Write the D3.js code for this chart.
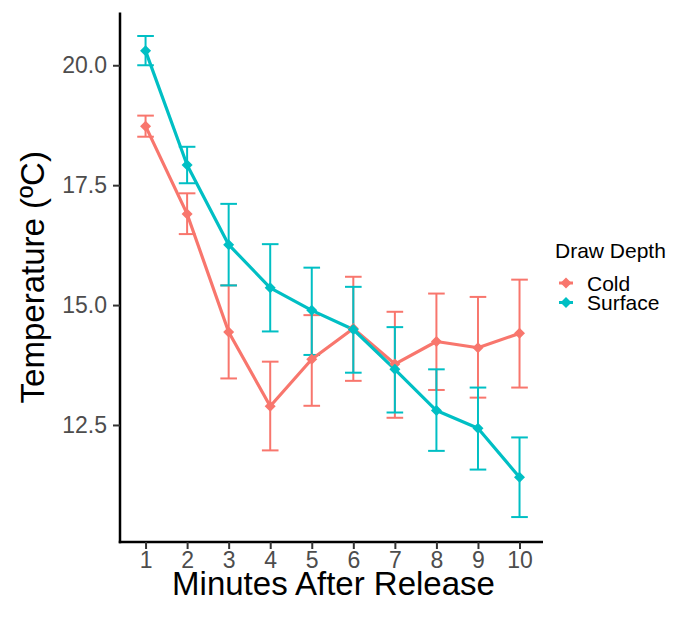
<!DOCTYPE html>
<html>
<head>
<meta charset="utf-8">
<script src="https://cdn.jsdelivr.net/npm/d3@7"></script>
<style>
  html, body { margin: 0; padding: 0; background: #fff; }
  svg { display: block; font-family: "Liberation Sans", Arial, sans-serif; }
</style>
</head>
<body>
<svg id="chart" width="673" height="617"></svg>
<script>
// ---- data ----
const minutes = [1, 2, 3, 4, 5, 6, 7, 8, 9, 10];
const seriesNames = ["Cold", "Surface"];
const coldMean  = [18.73, 16.90, 14.44, 12.89, 13.87, 14.51, 13.77, 14.24, 14.11, 14.41];
const coldLow   = [18.51, 16.48, 13.47, 11.97, 12.90, 13.42, 12.65, 13.23, 13.07, 13.28];
const coldHigh  = [18.95, 17.33, 15.41, 13.82, 14.79, 15.59, 14.86, 15.24, 15.17, 15.53];
const surfMean  = [20.30, 17.92, 16.26, 15.36, 14.89, 14.49, 13.66, 12.80, 12.43, 11.41];
const surfLow   = [20.00, 17.54, 15.41, 14.45, 13.96, 13.59, 12.76, 11.96, 11.57, 10.58];
const surfHigh  = [20.61, 18.30, 17.11, 16.27, 15.78, 15.38, 14.54, 13.66, 13.28, 12.24];
const yTicks = [12.5, 15.0, 17.5, 20.0];
const colors = ["#F8766D", "#00BFC4"];

(function () {
const series = [
  { name: seriesNames[0], color: colors[0], mean: coldMean, low: coldLow, high: coldHigh },
  { name: seriesNames[1], color: colors[1], mean: surfMean, low: surfLow, high: surfHigh }
].map(s => ({ ...s, pts: minutes.map((m, i) => ({ x: m, y: s.mean[i], lo: s.low[i], hi: s.high[i] })) }));

// ---- layout ----
const svg = d3.select("#chart");
const pL = 120, pR = 543, pT = 12.5, pB = 542;
const x = d3.scaleLinear().domain([0.385, 10.565]).range([pL, pR]);
const y = d3.scaleLinear().domain([10.06, 21.1]).range([pB, pT]);

// error bars
const capHalf = 0.2; // in x units
const eb = svg.append("g");
series.forEach(s => {
  const g = eb.append("g").attr("stroke", s.color).attr("stroke-width", 2).attr("fill", "none");
  s.pts.forEach(p => {
    g.append("line").attr("x1", x(p.x)).attr("x2", x(p.x)).attr("y1", y(p.lo)).attr("y2", y(p.hi));
    g.append("line").attr("x1", x(p.x - capHalf)).attr("x2", x(p.x + capHalf)).attr("y1", y(p.lo)).attr("y2", y(p.lo));
    g.append("line").attr("x1", x(p.x - capHalf)).attr("x2", x(p.x + capHalf)).attr("y1", y(p.hi)).attr("y2", y(p.hi));
  });
});

// lines
const line = d3.line().x(d => x(d.x)).y(d => y(d.y));
series.forEach(s => {
  svg.append("path").datum(s.pts).attr("d", line)
    .attr("fill", "none").attr("stroke", s.color).attr("stroke-width", 3.2).attr("stroke-linejoin", "round");
});

// points (diamonds)
const diamond = r => `M0,${-r}L${r},0L0,${r}L${-r},0Z`;
series.forEach(s => {
  svg.append("g").selectAll("path").data(s.pts).join("path")
    .attr("d", diamond(5.5))
    .attr("transform", d => `translate(${x(d.x)},${y(d.y)})`)
    .attr("fill", s.color);
});

// axes
const yAxis = svg.append("g").attr("transform", `translate(${pL},0)`)
  .call(d3.axisLeft(y).tickValues(yTicks).tickFormat(d3.format(".1f")).tickSizeOuter(0).tickSize(7).tickPadding(6));
const xAxis = svg.append("g").attr("transform", `translate(0,${pB})`)
  .call(d3.axisBottom(x).tickValues(minutes).tickFormat(d3.format("d")).tickSizeOuter(0).tickSize(7).tickPadding(3));
[yAxis, xAxis].forEach(a => {
  a.select(".domain").attr("stroke", "#000").attr("stroke-width", 2.5);
  a.selectAll(".tick line").attr("stroke", "#333").attr("stroke-width", 2);
  a.selectAll(".tick text").attr("fill", "#4D4D4D").style("font-size", "23px")
    .style("font-family", "Liberation Sans, Arial, sans-serif");
});
xAxis.select(".domain").attr("d", `M${pL - 1.25},0H${pR}`);
yAxis.select(".domain").attr("d", `M0,${pT}V${pB + 1.25}`);

// axis titles
svg.append("text").attr("x", (pL + pR) / 2 + 2).attr("y", 595)
  .attr("text-anchor", "middle").style("font-size", "33px").attr("fill", "#000")
  .text("Minutes After Release");
svg.append("text").attr("transform", `translate(44,${(pT + pB) / 2}) rotate(-90)`)
  .attr("text-anchor", "middle").style("font-size", "33px").attr("fill", "#000")
  .text("Temperature (ºC)");

// legend
const lg = svg.append("g");
lg.append("text").attr("x", 555).attr("y", 258).style("font-size", "21px").attr("fill", "#000").text("Draw Depth");
series.forEach((s, i) => {
  const cy = 283 + i * 19.5;
  lg.append("line").attr("x1", 559).attr("x2", 573).attr("y1", cy).attr("y2", cy)
    .attr("stroke", s.color).attr("stroke-width", 3);
  lg.append("path").attr("d", diamond(5.5)).attr("transform", `translate(566,${cy})`).attr("fill", s.color);
  lg.append("text").attr("x", 587).attr("y", cy + 7.5).style("font-size", "21px").attr("fill", "#000").text(s.name);
});
})();
</script>
</body>
</html>
